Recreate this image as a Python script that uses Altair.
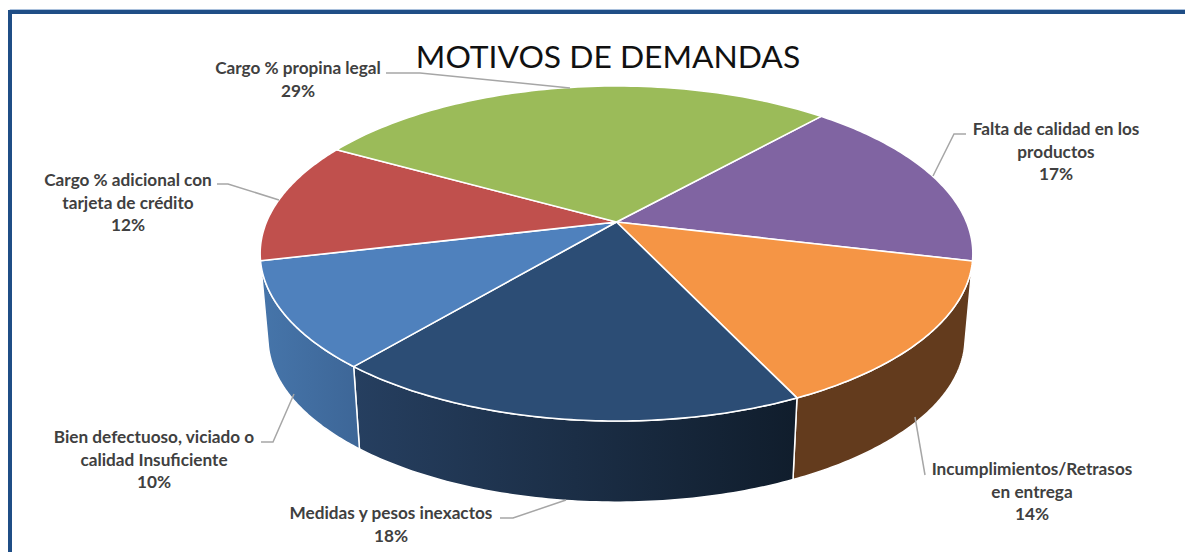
import numpy as np
import pandas as pd
import altair as alt

# ---- chart values ----
categories = [
    "Falta de calidad en los productos",
    "Incumplimientos/Retrasos en entrega",
    "Medidas y pesos inexactos",
    "Bien defectuoso, viciado o calidad Insuficiente",
    "Cargo % adicional con tarjeta de crédito",
    "Cargo % propina legal",
]
shares = [17.1, 14.25, 18.15, 10.2, 11.8, 28.5]
top_colors = ["#8064A2", "#F59545", "#2C4D75", "#4F81BD", "#C0504D", "#9BBB59"]
wall_colors = [None, ("#633B1D", "#633B1D"), ("#263F60", "#101D2C"), ("#4675AA", "#3D6697"), None, None]
label_lines = [
    ["Falta de calidad en los", "productos", "17%"],
    ["Incumplimientos/Retrasos", "en entrega", "14%"],
    ["Medidas y pesos inexactos", "18%"],
    ["Bien defectuoso, viciado o", "calidad Insuficiente", "10%"],
    ["Cargo % adicional con", "tarjeta de crédito", "12%"],
    ["Cargo % propina legal", "29%"],
]
title_text = "MOTIVOS DE DEMANDAS"

# ---- layout of the pie (page pixels) ----
W, H = 1177, 544
CX, CY = 616.5, 222
A, B, K = 350, 161.6, 0.188
START = 41.8
SHRINK, DROP = 0.978, 85.5
VIS = (100, 260)

label_pos = [(1056, 130), (1032, 470), (391, 514), (154, 438), (128, 181), (298, 69)]
line_gap = 22.7
leaders = [
    [(966, 134), (954, 134), (933, 176)],
    [(925, 475), (915, 417)],
    [(500, 518), (513, 518), (566, 500)],
    [(261, 442), (273, 442), (294, 394)],
    [(217, 184), (228, 184), (279, 200)],
    [(386, 73), (420, 73), (570, 88)],
]

xs = alt.Scale(domain=[8, 8 + W], range=[0, W], nice=False, zero=False)
ys = alt.Scale(domain=[8, 8 + H], range=[0, H], nice=False, zero=False)


def project(theta_deg, lower=False):
    t = np.radians(np.asarray(theta_deg, dtype=float))
    u, v = np.sin(t), -np.cos(t)
    d = 1 - K * v
    X, Y = A * u / d, B * v / d
    if lower:
        return CX + X * SHRINK, CY + Y * SHRINK + DROP
    return CX + X, CY + Y


def poly(px, py):
    return pd.DataFrame({"px": px, "py": py, "i": np.arange(len(px))})


def enc(chart):
    return chart.encode(
        x=alt.X("px:Q", scale=xs, axis=None),
        y=alt.Y("py:Q", scale=ys, axis=None),
        order="i:Q",
    )


def gradient(c0, c1):
    return alt.Gradient(
        gradient="linear", x1=0, y1=0, x2=1, y2=0,
        stops=[alt.GradientStop(color=c0, offset=0), alt.GradientStop(color=c1, offset=1)],
    )


edges = START + np.concatenate([[0], np.cumsum(shares)]) * 3.6
layers = []

# walls
for k, wc in enumerate(wall_colors):
    if wc is None:
        continue
    a0, a1 = max(edges[k], VIS[0]), min(edges[k + 1], VIS[1])
    th = np.linspace(a0, a1, 80)
    x1, y1 = project(th)
    x2, y2 = project(th[::-1], lower=True)
    px = np.r_[x1, x2, x1[0]]
    py = np.r_[y1, y2, y1[0]]
    layers.append(enc(alt.Chart(poly(px, py)).mark_line(
        fill=gradient(*wc), stroke="#ffffff", strokeWidth=1.5, strokeJoin="round", interpolate="linear")))

# top faces
for k, col in enumerate(top_colors):
    th = np.linspace(edges[k], edges[k + 1], 80)
    x1, y1 = project(th)
    px = np.r_[CX, x1, CX]
    py = np.r_[CY, y1, CY]
    layers.append(enc(alt.Chart(poly(px, py)).mark_line(
        fill=col, stroke="#ffffff", strokeWidth=1.6, strokeJoin="round", interpolate="linear")))

# leaders
for pts in leaders:
    layers.append(enc(alt.Chart(poly([p[0] for p in pts], [p[1] for p in pts])).mark_line(
        stroke="#A6A6A6", strokeWidth=1.5)))

# frame
frame_x, frame_y = [10, 10, 1185], [552, 12, 12]
layers.append(enc(alt.Chart(poly(frame_x, [y - 2.5 for y in frame_y])).mark_line(stroke="#A9C0DC", strokeWidth=1)))
layers.append(enc(alt.Chart(poly(frame_x, frame_y)).mark_line(stroke="#1F4E86", strokeWidth=4, strokeJoin="miter")))

# labels
rows = []
for lines, (lx, ly) in zip(label_lines, label_pos):
    for n, s in enumerate(lines):
        rows.append({"px": lx, "py": ly + n * line_gap, "t": s})
layers.append(alt.Chart(pd.DataFrame(rows)).mark_text(
    font="Lato", fontWeight="bold", fontSize=17.2, color="#404040", align="center", baseline="middle"
).encode(
    x=alt.X("px:Q", scale=xs, axis=None),
    y=alt.Y("py:Q", scale=ys, axis=None),
    text="t:N",
))

# title
layers.append(alt.Chart(pd.DataFrame({"px": [608], "py": [58], "t": [title_text]})).mark_text(
    font="Lato", fontSize=31.8, color="#111111", align="center", baseline="middle"
).encode(
    x=alt.X("px:Q", scale=xs, axis=None),
    y=alt.Y("py:Q", scale=ys, axis=None),
    text="t:N",
))

chart = alt.layer(*layers).properties(
    width=W, height=H, padding=0, background="#ffffff",
    autosize=alt.AutoSizeParams(type="none"),
).configure_view(stroke=None)

chart.save("out.html", embed_options={"renderer": "svg", "actions": False})
